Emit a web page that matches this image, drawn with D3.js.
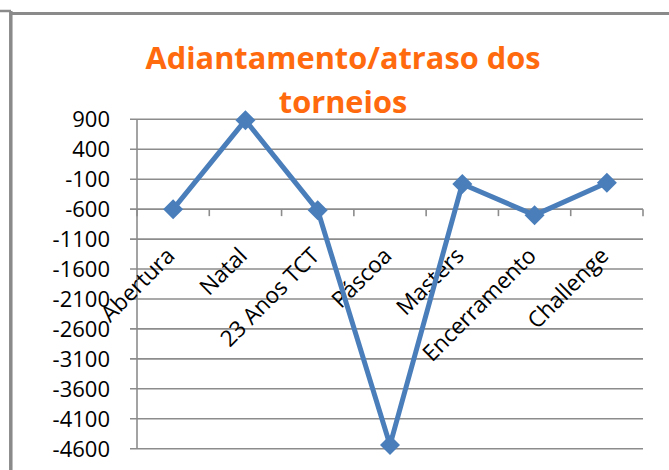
<!DOCTYPE html>
<html>
<head>
<meta charset="utf-8">
<script src="https://cdn.jsdelivr.net/npm/d3@7"></script>
<style>
  body { margin: 0; background: #fff; }
  svg { display: block; }
</style>
</head>
<body>
<svg id="chart"></svg>
<script>
const width = 669;
const height = 470;

// data
const categories = ["Abertura", "Natal", "23 Anos TCT", "Páscoa", "Masters", "Encerramento", "Challenge"];
const values = [-600, 885, -620, -4540, -180, -700, -160];
const yTicks = [900, 400, -100, -600, -1100, -1600, -2100, -2600, -3100, -3600, -4100, -4600];
const titleLines = ["Adiantamento/atraso dos", "torneios"];

const plot = { left: 137, right: 643, top: 119.3, bottom: 448.7 };

const svg = d3.select("#chart")
    .attr("width", width)
    .attr("height", height);

svg.append("rect").attr("width", width).attr("height", height).attr("fill", "#fff");

// outer frame (partly cut off in the reference)
svg.append("line").attr("x1", 0).attr("x2", 11).attr("y1", 11).attr("y2", 11)
    .attr("stroke", "#8a8a8a").attr("stroke-width", 2.5);
svg.append("line").attr("x1", 11).attr("x2", width).attr("y1", 13.5).attr("y2", 13.5)
    .attr("stroke", "#8a8a8a").attr("stroke-width", 3);
svg.append("line").attr("x1", 10.8).attr("x2", 10.8).attr("y1", 11).attr("y2", height)
    .attr("stroke", "#8a8a8a").attr("stroke-width", 3.5);

const x = d3.scaleBand()
    .domain(categories)
    .range([plot.left, plot.right]);

const y = d3.scaleLinear()
    .domain([-4600, 900])
    .range([plot.bottom, plot.top]);

// gridlines
svg.append("g")
    .selectAll("line")
    .data(yTicks)
    .enter().append("line")
    .attr("x1", plot.left - 7)
    .attr("x2", plot.right)
    .attr("y1", d => y(d))
    .attr("y2", d => y(d))
    .attr("stroke", "#8c8c8c")
    .attr("stroke-width", 1.6);

// y axis line
svg.append("line")
    .attr("x1", plot.left).attr("x2", plot.left)
    .attr("y1", plot.top).attr("y2", plot.bottom)
    .attr("stroke", "#8c8c8c").attr("stroke-width", 1.6);

// y tick labels
svg.append("g")
    .selectAll("text")
    .data(yTicks)
    .enter().append("text")
    .attr("x", 110)
    .attr("y", d => y(d))
    .attr("dy", "0.36em")
    .attr("text-anchor", "end")
    .attr("font-family", "Open Sans")
    .attr("font-size", 22)
    .attr("fill", "#000")
    .text(d => d);

// category axis crosses at -600
const axisY = y(-600);
const bounds = categories.map(c => x(c) + x.bandwidth()).concat([plot.left]);
svg.append("g")
    .selectAll("line")
    .data(bounds)
    .enter().append("line")
    .attr("x1", d => d).attr("x2", d => d)
    .attr("y1", axisY).attr("y2", axisY + 7)
    .attr("stroke", "#8c8c8c").attr("stroke-width", 1.6);

// rotated category labels
svg.append("g")
    .selectAll("text")
    .data(categories)
    .enter().append("text")
    .attr("transform", d => `translate(${x(d) + x.bandwidth() / 2 + 3},${axisY + 48}) rotate(-45)`)
    .attr("text-anchor", "end")
    .attr("font-family", "Open Sans")
    .attr("font-size", 22.5)
    .attr("fill", "#000")
    .text(d => d);

// line + markers
const data = categories.map((c, i) => ({ c, v: values[i] }));
const line = d3.line()
    .x(d => x(d.c) + x.bandwidth() / 2)
    .y(d => y(d.v));

svg.append("path")
    .datum(data)
    .attr("d", line)
    .attr("fill", "none")
    .attr("stroke", "#4a7ebb")
    .attr("stroke-width", 5)
    .attr("stroke-linejoin", "round");

svg.append("g")
    .selectAll("path")
    .data(data)
    .enter().append("path")
    .attr("d", d3.symbol(d3.symbolSquare, 200))
    .attr("transform", d => `translate(${x(d.c) + x.bandwidth() / 2},${y(d.v)}) rotate(45)`)
    .attr("fill", "#4a7ebb");

// title
const title = svg.append("g")
    .selectAll("text")
    .data(titleLines)
    .enter().append("text")
    .attr("x", 343)
    .attr("y", (d, i) => 69 + i * 44)
    .attr("text-anchor", "middle")
    .attr("font-family", "Open Sans")
    .attr("font-weight", "bold")
    .attr("font-size", 30)
    .attr("fill", "#ff6a0e")
    .text(d => d);

// scale font so the first line is about as wide as in the reference
const w0 = title.nodes()[0].getComputedTextLength();
title.attr("font-size", 30 * 395 / w0);
</script>
</body>
</html>
